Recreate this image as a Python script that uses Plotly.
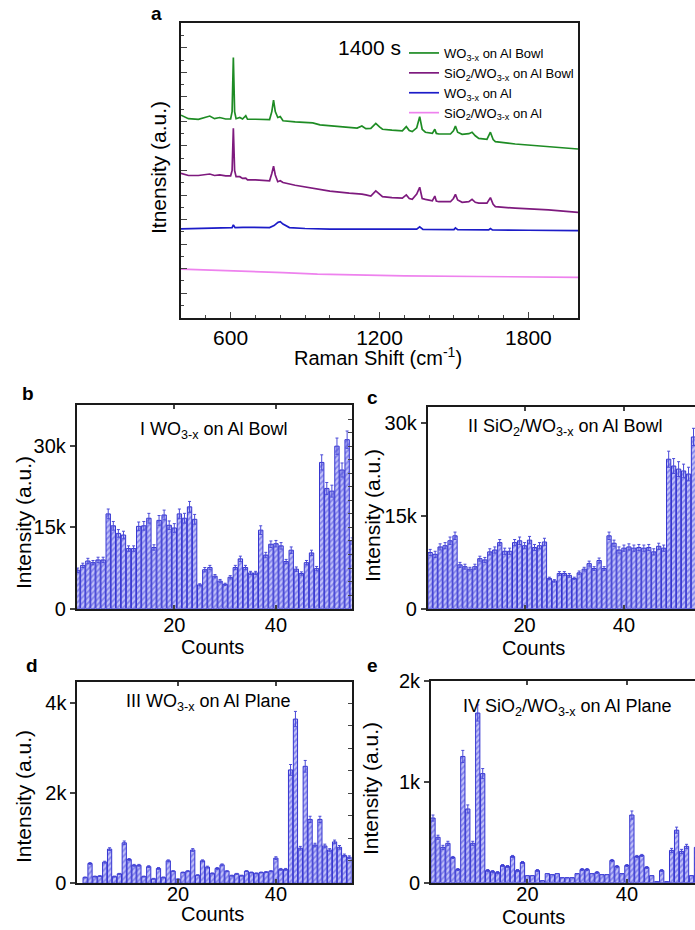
import plotly.graph_objects as go

W, H = 695, 930

# ---------------- Panel a : Raman spectra (1400 s) ----------------
raman_x = [400, 430, 470, 516, 535, 556, 580, 600, 606, 611, 616, 622, 637, 648, 661, 668, 700, 740, 757, 766,
           773, 780, 790, 800, 811, 860, 931, 960, 1000, 1078, 1110, 1129, 1145, 1165, 1185, 1200, 1212, 1250, 1292, 1308,
           1320, 1332, 1350, 1362, 1372, 1385, 1413, 1423, 1429, 1439, 1486, 1498, 1506, 1515, 1533, 1560, 1573, 1586, 1600, 1633,
           1647, 1658, 1667, 1747, 1881, 2000]
green_y = [68.8, 67.6, 67.4, 68.5, 67.6, 68.0, 67.5, 67.5, 70.0, 88.4, 70.0, 67.6, 68.0, 67.5, 68.6, 67.4, 67.4, 67.2, 67.3, 70.0,
           73.9, 70.0, 68.0, 68.3, 66.9, 66.5, 66.2, 65.5, 65.2, 64.7, 64.4, 65.1, 64.2, 64.3, 66.0, 64.8, 64.0, 63.7, 63.5, 64.9,
           63.6, 63.2, 64.5, 68.3, 64.0, 63.0, 62.6, 64.0, 62.6, 62.4, 62.4, 63.5, 65.1, 63.0, 62.3, 62.5, 63.0, 61.8, 60.9, 60.6,
           63.0, 60.5, 59.8, 59.0, 58.1, 57.3]
purple_y = [49.0, 48.3, 48.3, 48.8, 48.3, 48.5, 48.2, 48.2, 50.0, 64.3, 50.0, 47.9, 47.9, 47.3, 47.4, 46.8, 46.8, 46.5, 46.5, 49.0,
            51.5, 48.5, 46.2, 46.5, 45.9, 45.0, 44.0, 43.5, 43.0, 42.3, 42.2, 42.0, 41.7, 41.3, 43.1, 41.8, 41.1, 40.8, 40.6, 41.7,
            40.5, 40.2, 42.0, 44.3, 40.5, 40.2, 39.7, 41.3, 39.6, 39.4, 39.4, 40.5, 41.9, 40.0, 39.2, 39.4, 40.2, 39.2, 38.9, 38.9,
            40.8, 38.5, 37.7, 37.2, 36.6, 35.8]
blue_x = [400, 500, 600, 606, 611, 618, 650, 700, 757, 775, 791, 800, 811, 837, 900, 1000, 1100, 1200, 1300, 1350,
          1362, 1375, 1500, 1506, 1515, 1640, 1647, 1655, 1800, 2000]
blue_y = [30.2, 30.3, 30.5, 30.6, 31.5, 30.6, 30.7, 30.7, 30.6, 31.3, 32.4, 32.6, 31.8, 30.6, 30.3, 30.1, 30.1, 30.1, 30.0, 30.1,
          30.9, 30.0, 29.9, 30.5, 29.9, 29.8, 30.3, 29.8, 29.7, 29.6]
pink_x = [400, 611, 700, 811, 950, 1078, 1300, 1600, 2000]
pink_y = [16.5, 16.0, 15.6, 15.3, 14.8, 14.5, 14.2, 14.0, 13.7]

series_names = ["WO<sub>3-x</sub> on Al Bowl", "SiO<sub>2</sub>/WO<sub>3-x</sub> on Al Bowl",
                "WO<sub>3-x</sub> on Al", "SiO<sub>2</sub>/WO<sub>3-x</sub> on Al"]
series_colors = ["#1e8c24", "#7e1a7e", "#1c1cc8", "#ee82ee"]

# ---------------- Panels b-e : intensity per count (k a.u.) ----------------
b_vals = [7.1, 8.0, 8.8, 8.5, 9.0, 9.0, 17.5, 15.3, 13.9, 13.6, 11.1, 11.1, 15.2, 15.3, 16.7, 11.3, 16.3, 17.3, 15.4, 14.9,
          17.5, 16.7, 18.8, 16.5, 4.4, 7.2, 7.6, 6.0, 5.1, 4.5, 5.8, 7.6, 9.2, 7.6, 6.6, 6.6, 14.5, 9.9, 11.9, 12.0,
          11.6, 8.7, 10.8, 7.3, 6.5, 8.5, 10.3, 7.4, 27.0, 22.2, 21.7, 30.0, 25.6, 31.2, 12.5]
b_err = [0.4, 0.4, 0.5, 0.4, 0.5, 0.5, 0.9, 0.8, 0.7, 0.7, 0.5, 0.5, 0.8, 0.8, 0.9, 0.5, 0.9, 0.9, 0.8, 0.8,
         0.9, 0.9, 1.0, 0.9, 0.2, 0.4, 0.4, 0.3, 0.3, 0.2, 0.3, 0.4, 0.5, 0.4, 0.3, 0.3, 0.8, 0.5, 0.6, 0.6,
         0.6, 0.4, 0.6, 0.4, 0.3, 0.4, 0.5, 0.4, 1.4, 1.1, 1.1, 1.5, 1.3, 1.6, 0.6]
c_vals = [9.1, 8.8, 10.0, 10.2, 11.0, 11.8, 7.1, 6.8, 6.4, 6.8, 8.1, 7.9, 9.2, 9.5, 10.7, 9.3, 9.3, 10.7, 11.0, 10.2,
          11.1, 9.9, 10.2, 10.8, 4.9, 4.5, 5.7, 5.7, 5.4, 4.9, 5.8, 6.4, 7.3, 6.5, 7.8, 6.5, 11.8, 10.6, 9.5, 9.8,
          10.0, 9.8, 9.9, 9.8, 9.9, 9.2, 10.1, 9.8, 24.2, 23.1, 22.6, 22.3, 21.8, 27.8]
c_err = [0.5, 0.5, 0.5, 0.5, 0.6, 0.6, 0.4, 0.4, 0.3, 0.4, 0.4, 0.4, 0.5, 0.5, 0.5, 0.5, 0.5, 0.5, 0.6, 0.5,
         0.6, 0.5, 0.5, 0.6, 0.2, 0.2, 0.3, 0.3, 0.3, 0.2, 0.3, 0.3, 0.4, 0.3, 0.4, 0.3, 0.6, 0.5, 0.5, 0.5,
         0.5, 0.5, 0.5, 0.5, 0.5, 0.5, 0.5, 0.5, 1.3, 1.2, 1.2, 1.1, 1.1, 1.4]
d_vals = [0.13, 0.44, 0.15, 0.16, 0.47, 0.76, 0.15, 0.21, 0.90, 0.53, 0.40, 0.40, 0.15, 0.37, 0.10, 0.33, 0.13, 0.50, 0.27, 0.09,
          0.24, 0.27, 0.74, 0.18, 0.50, 0.36, 0.22, 0.33, 0.41, 0.27, 0.17, 0.21, 0.17, 0.27, 0.24, 0.22, 0.24, 0.25, 0.27, 0.56,
          0.31, 0.31, 2.52, 3.65, 0.78, 2.60, 1.42, 0.85, 1.42, 0.83, 0.74, 0.92, 0.80, 0.62, 0.58]
d_err = [0.01, 0.02, 0.01, 0.01, 0.02, 0.03, 0.01, 0.01, 0.04, 0.02, 0.02, 0.02, 0.01, 0.02, 0.01, 0.02, 0.01, 0.02, 0.01, 0.01,
         0.01, 0.01, 0.03, 0.01, 0.02, 0.02, 0.01, 0.02, 0.02, 0.01, 0.01, 0.01, 0.01, 0.01, 0.01, 0.01, 0.01, 0.01, 0.01, 0.03,
         0.02, 0.02, 0.12, 0.17, 0.04, 0.13, 0.07, 0.04, 0.07, 0.04, 0.03, 0.04, 0.04, 0.03, 0.03]
e_vals = [0.64, 0.45, 0.35, 0.39, 0.25, 0.13, 1.25, 0.73, 0.39, 1.68, 1.08, 0.12, 0.11, 0.10, 0.17, 0.16, 0.26, 0.12, 0.20, 0.07,
          0.07, 0.12, 0.02, 0.09, 0.08, 0.09, 0.05, 0.05, 0.05, 0.09, 0.13, 0.13, 0.09, 0.10, 0.08, 0.08, 0.22, 0.16, 0.09, 0.17,
          0.67, 0.26, 0.27, 0.15, 0.07, 0.01, 0.12, 0.01, 0.32, 0.52, 0.31, 0.36, 0.07, 0.35]
e_err = [0.03, 0.02, 0.02, 0.02, 0.01, 0.01, 0.06, 0.04, 0.02, 0.08, 0.05, 0.01, 0.01, 0.01, 0.01, 0.01, 0.01, 0.01, 0.01, 0.00,
         0.00, 0.01, 0.00, 0.00, 0.00, 0.00, 0.00, 0.00, 0.00, 0.00, 0.01, 0.01, 0.00, 0.01, 0.00, 0.00, 0.01, 0.01, 0.00, 0.01,
         0.04, 0.01, 0.01, 0.01, 0.00, 0.00, 0.01, 0.00, 0.02, 0.03, 0.02, 0.02, 0.00, 0.02]

panel_titles = ["I WO<sub>3-x</sub> on Al Bowl", "II SiO<sub>2</sub>/WO<sub>3-x</sub> on Al Bowl",
                "III WO<sub>3-x</sub> on Al Plane", "IV SiO<sub>2</sub>/WO<sub>3-x</sub> on Al Plane"]

FONT = "Arial, Liberation Sans, sans-serif"
AX = "#1a1a1a"


def fx(p):
    return p / W


def fy(p):
    return 1 - p / H


def note(text, x, y, size, angle=0):
    return dict(text=text, x=fx(x), y=fy(y), xref="paper", yref="paper", showarrow=False,
                xanchor="center", yanchor="middle", textangle=angle, font=dict(size=size))


fig = go.Figure()

# panel a traces
for xs, ys, name, col in [(raman_x, green_y, series_names[0], series_colors[0]),
                          (raman_x, purple_y, series_names[1], series_colors[1]),
                          (blue_x, blue_y, series_names[2], series_colors[2]),
                          (pink_x, pink_y, series_names[3], series_colors[3])]:
    fig.add_trace(go.Scatter(x=xs, y=ys, mode="lines", name=name,
                             line=dict(color=col, width=1.7), xaxis="x", yaxis="y"))

layout = dict(
    width=W, height=H, margin=dict(l=0, r=0, t=0, b=0, autoexpand=False),
    paper_bgcolor="white", plot_bgcolor="white",
    font=dict(family=FONT, color="black"),
    showlegend=True,
    legend=dict(x=fx(404), y=fy(38), xanchor="left", yanchor="top",
                bgcolor="rgba(0,0,0,0)", font=dict(size=13, family=FONT),
                tracegroupgap=0, itemwidth=30),
    bargap=0.12,
)

layout["xaxis"] = dict(domain=[fx(181), fx(578)], anchor="y", range=[400, 2000],
                       tickvals=[600, 1200, 1800], ticks="inside", ticklen=6,
                       minor=dict(dtick=100, ticks="inside", ticklen=3, tick0=0),
                       showline=True, mirror=True, linecolor=AX, linewidth=1.5,
                       tickfont=dict(size=21), showgrid=False, zeroline=False)
layout["yaxis"] = dict(domain=[fy(317.7), fy(23.3)], anchor="x", range=[0, 100],
                       dtick=100 / 12, tick0=0, ticks="inside", ticklen=6,
                       minor=dict(dtick=100 / 24, ticks="inside", ticklen=3),
                       showticklabels=False, showline=True, mirror=True,
                       linecolor=AX, linewidth=1.5, showgrid=False, zeroline=False)

annotations = [
    note("<b>a</b>", 156, 14, 19),
    note("1400 s", 369, 47, 21),
    note("Itnensity (a.u.)", 158, 168, 21, -90),
    note("Raman Shift (cm<sup>-1</sup>)", 378, 356, 20),
]

panels = [
    (b_vals, b_err, [0.8, 54.9], [0, 37.6], (76.7, 351.7), (608.7, 405), ([0, 15, 30], ["0", "15k", "30k"]),
     "b", (28, 394), (214, 431), (23, 523), (212, 647), 2.5, -3),
    (c_vals, c_err, [0.5, 54.3], [0, 32.7], (427.7, 695), (608.7, 406.7), ([0, 15, 30], ["0", "15k", "30k"]),
     "c", (373, 397), (565, 427), (372, 516), (533, 648), None, -3),
    (d_vals, d_err, [-0.6, 55.5], [0, 4.48], (77.3, 351.7), (883.3, 681.7), ([0, 2, 4], ["0", "2k", "4k"]),
     "d", (32, 665), (208, 702), (23, 797), (212, 914), 0.5, -8),
    (e_vals, e_err, [0.6, 53.7], [0, 2.0], (431, 695), (882.7, 680.7), ([0, 1, 2], ["0", "1k", "2k"]),
     "e", (373, 665), (567, 707), (370, 789), (533, 917), None, -8),
]

extra_axis = 6
for i, (vals, errs, xr, yr, dxp, dyp, yt, lab, labpos, tpos, ytpos, cpos, rminor, xstand) in enumerate(panels):
    k = i + 2
    xs = list(range(1, len(vals) + 1))
    fig.add_trace(go.Bar(
        x=xs, y=vals, xaxis=f"x{k}", yaxis=f"y{k}", showlegend=False, width=0.86,
        marker=dict(color="#bcbcf6", line=dict(color="#3434d0", width=1),
                    pattern=dict(shape="/", fgcolor="#4444dc", bgcolor="#c2c2f8", size=4, solidity=0.45)),
        error_y=dict(type="data", array=errs, color="#4a4ad8", thickness=1, width=1.5),
    ))
    layout[f"xaxis{k}"] = dict(domain=[fx(dxp[0]), min(fx(dxp[1]), 1.0)], anchor=f"y{k}", range=xr,
                               tickvals=[20, 40], ticks="inside", ticklen=4, tickwidth=1.5,
                               ticklabelstandoff=xstand,
                               showline=True, mirror="ticks", linecolor=AX, linewidth=1.8,
                               tickfont=dict(size=20), showgrid=False, zeroline=False)
    layout[f"yaxis{k}"] = dict(domain=[fy(dyp[0]), fy(dyp[1])], anchor=f"x{k}", range=yr,
                               tickvals=yt[0], ticktext=yt[1], ticks="outside", ticklen=5, tickwidth=1.5,
                               showline=True, mirror=False, linecolor=AX, linewidth=1.8,
                               tickfont=dict(size=20), showgrid=False, zeroline=False)
    if rminor is not None:
        ya = extra_axis
        extra_axis += 1
        layout[f"yaxis{ya}"] = dict(overlaying=f"y{k}", side="right", anchor=f"x{k}", range=yr,
                                    dtick=rminor, tick0=0, ticks="inside", ticklen=4, tickwidth=1.2,
                                    showticklabels=False, showline=True, linecolor=AX, linewidth=1.8,
                                    showgrid=False, zeroline=False)
        fig.add_trace(go.Scatter(x=[xs[0]], y=[vals[0]], xaxis=f"x{k}", yaxis=f"y{ya}", mode="markers",
                                 marker=dict(opacity=0), showlegend=False, hoverinfo="skip"))
    annotations += [
        note(f"<b>{lab}</b>", labpos[0], labpos[1], 19),
        note(panel_titles[i], tpos[0], tpos[1], 18),
        note("Intensity (a.u.)", ytpos[0], ytpos[1], 21, -90),
        note("Counts", cpos[0], cpos[1], 20),
    ]

layout["annotations"] = annotations
fig.update_layout(**layout)
fig.write_html("out.html", config={"displayModeBar": False},
               post_script="document.body.style.margin='0';document.body.style.overflow='hidden';")
